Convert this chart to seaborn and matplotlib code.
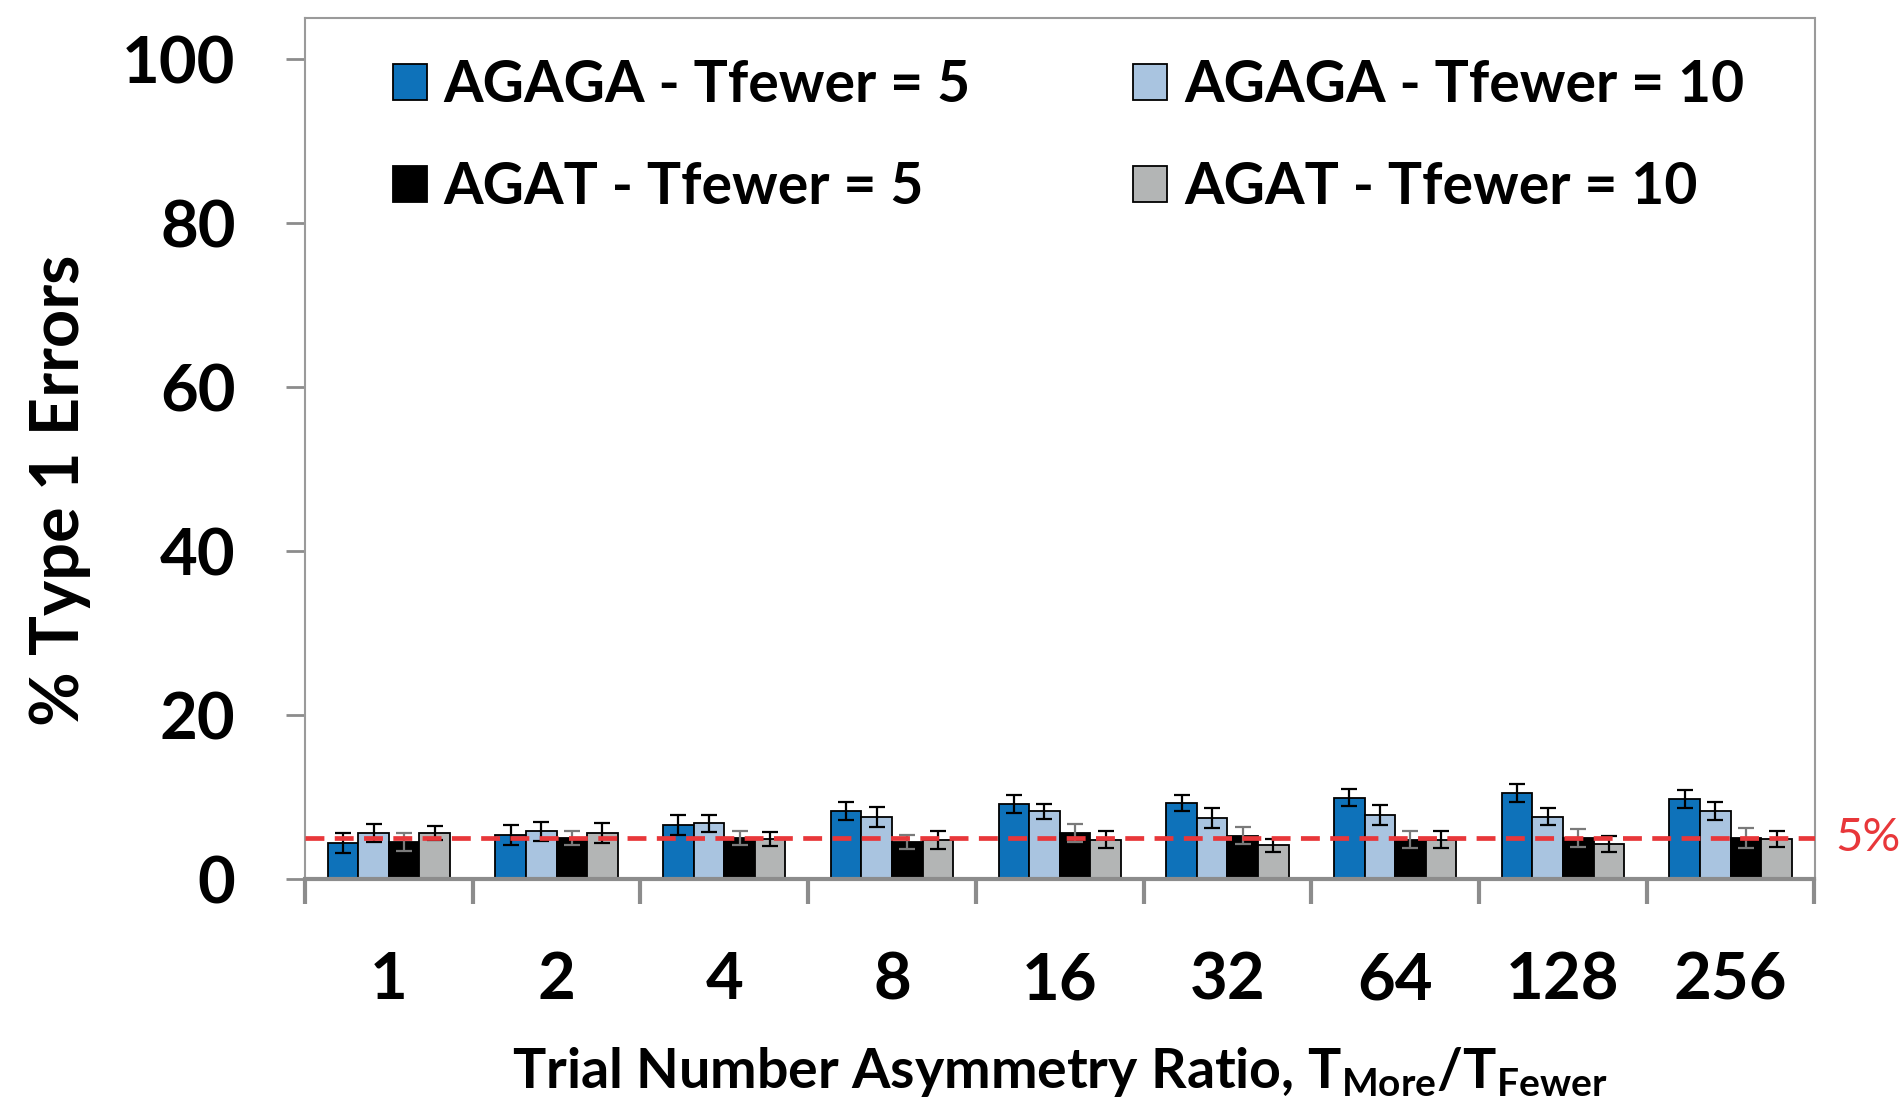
import numpy as np
import pandas as pd
import matplotlib
matplotlib.use('Agg')
import matplotlib.pyplot as plt
import seaborn as sns

# Data
ratios = ['1', '2', '4', '8', '16', '32', '64', '128', '256']
series = ['AGAGA - Tfewer = 5', 'AGAGA - Tfewer = 10', 'AGAT - Tfewer = 5', 'AGAT - Tfewer = 10']

agaga_5 = [4.4, 5.4, 6.6, 8.3, 9.2, 9.25, 9.9, 10.45, 9.75]
agaga_10 = [5.6, 5.8, 6.8, 7.6, 8.25, 7.4, 7.8, 7.6, 8.3]
agat_5 = [4.5, 5.0, 5.0, 4.5, 5.6, 5.3, 4.8, 5.0, 5.0]
agat_10 = [5.6, 5.6, 4.9, 4.8, 4.8, 4.1, 4.8, 4.3, 4.9]

agaga_5_err = [1.2, 1.2, 1.2, 1.15, 1.1, 1.0, 1.05, 1.1, 1.05]
agaga_10_err = [1.1, 1.2, 1.05, 1.2, 0.95, 1.2, 1.2, 1.0, 1.05]
agat_5_err = [1.1, 0.9, 0.85, 0.85, 1.05, 1.05, 1.05, 1.15, 1.2]
agat_10_err = [0.9, 1.2, 0.85, 1.1, 1.0, 0.8, 1.0, 1.0, 1.0]

threshold = 5

colors = ['#0E72BA', '#A9C4E0', '#000000', '#B3B5B5']
err_colors = ['black', 'black', '#7a7a7a', 'black']

values = [agaga_5, agaga_10, agat_5, agat_10]
errors = [agaga_5_err, agaga_10_err, agat_5_err, agat_10_err]

df = pd.DataFrame({
    'ratio': ratios * len(series),
    'series': np.repeat(series, len(ratios)),
    'value': np.concatenate(values),
})

sns.set_style('white')
plt.rcParams['font.family'] = ['Lato', 'DejaVu Sans']
plt.rcParams['font.weight'] = 'bold'
plt.rcParams['text.color'] = 'black'
plt.rcParams['axes.labelcolor'] = 'black'
plt.rcParams['mathtext.fontset'] = 'custom'
plt.rcParams['mathtext.bf'] = 'Lato:bold'
plt.rcParams['mathtext.rm'] = 'Lato:bold'

fig = plt.figure(figsize=(19, 11), dpi=100)
ax = fig.add_axes([0.1605, 0.2009, 0.7945, 0.7827])

sns.barplot(data=df, x='ratio', y='value', hue='series', order=ratios, hue_order=series,
            palette=colors, saturation=1, width=0.73, edgecolor='black', linewidth=1.3,
            errorbar=None, ax=ax)

# error bars on top of each bar
for container, errs, ec in zip(ax.containers, errors, err_colors):
    for bar, e in zip(container, errs):
        ax.errorbar(bar.get_x() + bar.get_width() / 2, bar.get_height(), yerr=e,
                    color=ec, capsize=6, capthick=1.6, elinewidth=1.6, fmt='none', zorder=5)

# 5% reference line
ax.axhline(threshold, color='#E8373A', linestyle=(0, (4, 2.2)), linewidth=3.4, zorder=6)
ax.text(1.014, threshold, '5%', transform=ax.get_yaxis_transform(), color='#E8373A',
        fontsize=34, fontweight='normal', va='center', ha='left')

ax.set_ylim(0, 105)
ax.set_xlim(-0.5, len(ratios) - 0.5)
ax.set_yticks([0, 20, 40, 60, 80, 100])

ax.set_ylabel('% Type 1 Errors', fontsize=48, fontweight='bold')
ax.yaxis.set_label_coords(-0.142, 0.452)
ax.set_xlabel('Trial Number Asymmetry Ratio, ' + r'$\mathbf{T_{More}/T_{Fewer}}$',
              fontsize=40, fontweight='bold', labelpad=25)

# tick styling: labels at centres, tick marks between groups
ax.tick_params(axis='y', which='major', labelsize=47, labelcolor='black', length=14, width=2,
               color='#8c8c8c', direction='out', left=True, pad=36)
ax.tick_params(axis='x', which='major', labelsize=47, labelcolor='black', length=0, pad=52)
ax.set_xticks(np.arange(-0.5, len(ratios)), minor=True)
ax.tick_params(axis='x', which='minor', length=18, width=3, color='#8c8c8c',
               direction='out', bottom=True)

for side in ['left', 'top', 'right']:
    ax.spines[side].set_color('#9a9a9a')
    ax.spines[side].set_linewidth(1.5)
ax.spines['bottom'].set_color('#8c8c8c')
ax.spines['bottom'].set_linewidth(3)

# legend: two columns, row-wise reading order
handles, labels = ax.get_legend_handles_labels()
order = [0, 2, 1, 3]
ax.legend([handles[i] for i in order], [labels[i] for i in order], ncol=2,
          loc='upper left', bbox_to_anchor=(0.058, 0.952), frameon=False,
          fontsize=41, handlelength=0.6, handleheight=0.6, handletextpad=0.3,
          columnspacing=2.85, labelspacing=0.85, borderpad=0, borderaxespad=0)

fig.savefig('out.png', dpi=100)
